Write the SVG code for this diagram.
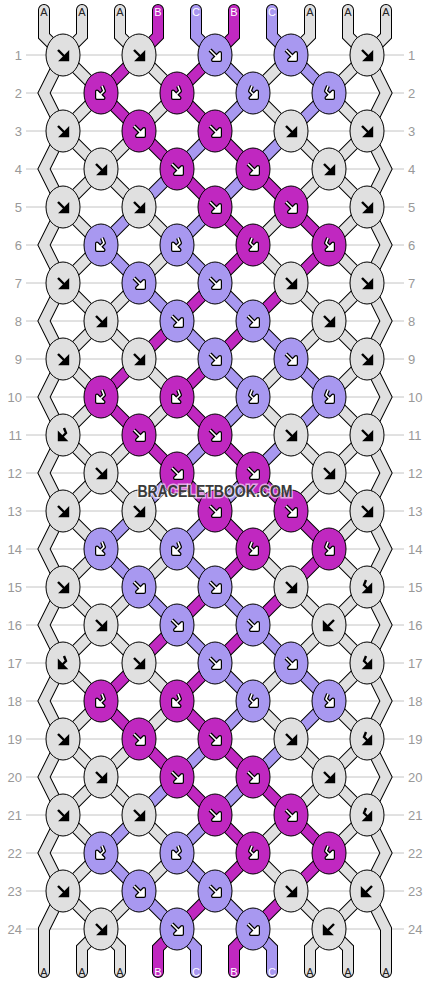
<svg xmlns="http://www.w3.org/2000/svg" width="430" height="984" viewBox="0 0 430 984">
<style>
.g{fill:#e0e0e0}.p{fill:#c028c0}.l{fill:#a898f0}
.num{font-family:"Liberation Sans",Arial,sans-serif;font-size:13px;fill:#999}
.lab{font-family:"Liberation Sans",Arial,sans-serif;font-size:11px;text-anchor:middle}
</style>
<defs>
<ellipse id="e" rx="17" ry="21" stroke="#000" stroke-width="1"/>
<g id="f"><path d="M-5,-5L2,2"/><polygon points="5,5 5,-2 -2,5"/></g>
<g id="b"><path d="M5,-5L-2,2"/><polygon points="-5,5 -5,-2 2,5"/></g>
<g id="rh"><path d="M-1,-7L-3,-2L1,2" fill="none"/><polygon points="4,5 4,-1.5 -2.5,5"/></g>
<g id="lh"><path d="M1,-7L3,-2L-1,2" fill="none"/><polygon points="-4,5 -4,-1.5 2.5,5"/></g>
<g id="fW" stroke-linejoin="round"><use href="#f" stroke="#000" stroke-width="4" fill="#000"/><use href="#f" stroke="#fff" stroke-width="1.6" fill="#fff"/></g>
<g id="rhW" stroke-linejoin="round"><use href="#rh" stroke="#000" stroke-width="4" fill="#000"/><use href="#rh" stroke="#fff" stroke-width="1.6" fill="#fff"/></g>
<g id="lhW" stroke-linejoin="round"><use href="#lh" stroke="#000" stroke-width="4" fill="#000"/><use href="#lh" stroke="#fff" stroke-width="1.6" fill="#fff"/></g>
<g id="fK"><use href="#f" stroke="#000" stroke-width="2.4" fill="#000"/></g>
<g id="bK"><use href="#b" stroke="#000" stroke-width="2.4" fill="#000"/></g>
<g id="rhK"><use href="#rh" stroke="#000" stroke-width="2.4" fill="#000"/></g>
<g id="lhK"><use href="#lh" stroke="#000" stroke-width="2.4" fill="#000"/></g>

<path id="a7" d="M63,55L101,93M367,55L329,93M139,55L177,93M291,55L253,93M101,93L63,131M329,93L367,131M177,93L139,131M253,93L291,131M63,131L101,169M367,131L329,169M139,131L101,169M291,131L329,169M101,169L63,207M329,169L367,207M101,169L139,207M329,169L291,207M63,207L101,245M367,207L329,245M139,207L177,245M291,207L253,245M101,245L63,283M329,245L367,283M177,245L139,283M253,245L291,283M63,283L101,321M367,283L329,321M139,283L101,321M291,283L329,321"/>
<path id="b7" d="M139,55L101,93M215,55L177,93M101,93L139,131M177,93L215,131M139,131L177,169M215,131L253,169M177,169L215,207M253,169L291,207M215,207L253,245M291,207L329,245M253,245L215,283M329,245L291,283M215,283L177,321M291,283L253,321"/>
<path id="c7" d="M215,55L253,93M291,55L329,93M253,93L215,131M329,93L291,131M215,131L177,169M291,131L253,169M177,169L139,207M253,169L215,207M139,207L101,245M215,207L177,245M101,245L139,283M177,245L215,283M139,283L177,321M215,283L253,321"/>
<path id="a8" d="M101,321L63,359M329,321L367,359M101,321L139,359M329,321L291,359"/>
<path id="b8" d="M177,321L139,359M253,321L215,359"/>
<path id="c8" d="M177,321L215,359M253,321L291,359"/>
<path id="aE" d="M44,10L44,36L63,55L44,93L63,131L44,169L63,207L44,245L63,283L44,321L63,359L44,397L63,435L44,473L63,511L44,549L63,587L44,625L63,663L44,701L63,739L44,777L63,815L44,853L63,891L44,929L44,972M386,10L386,36L367,55L386,93L367,131L386,169L367,207L386,245L367,283L386,321L367,359L386,397L367,435L386,473L367,511L386,549L367,587L386,625L367,663L386,701L367,739L386,777L367,815L386,853L367,891L386,929L386,972M82,10L82,36L63,55M120,10L120,36L139,55M310,10L310,36L291,55M348,10L348,36L367,55M101,929L82,948L82,972M101,929L120,948L120,972M329,929L310,948L310,972M329,929L348,948L348,972"/>
<path id="bE" d="M158,10L158,36L139,55M234,10L234,36L215,55M177,929L158,948L158,972M253,929L234,948L234,972"/>
<path id="cE" d="M196,10L196,36L215,55M272,10L272,36L291,55M177,929L196,948L196,972M253,929L272,948L272,972"/>
<g id="SA"><use href="#a7"/><use href="#a7" y="304"/><use href="#a7" y="608"/><use href="#a8"/><use href="#a8" y="304"/><use href="#aE"/></g>
<g id="SB"><use href="#b7"/><use href="#b7" y="304"/><use href="#b7" y="608"/><use href="#b8"/><use href="#b8" y="304"/><use href="#bE"/></g>
<g id="SC"><use href="#c7"/><use href="#c7" y="304"/><use href="#c7" y="608"/><use href="#c8"/><use href="#c8" y="304"/><use href="#cE"/></g>
</defs>
<rect width="430" height="984" fill="#fff"/>
<g id="rowlines" stroke="#c4c4c4" stroke-width="1">
<path d="M26,55H404M26,93H404M26,131H404M26,169H404M26,207H404M26,245H404M26,283H404M26,321H404M26,359H404M26,397H404M26,435H404M26,473H404M26,511H404M26,549H404M26,587H404M26,625H404M26,663H404M26,701H404M26,739H404M26,777H404M26,815H404M26,853H404M26,891H404M26,929H404"/>
</g>
<g id="rownumbers" class="num">
<g text-anchor="end">
<text x="22" y="59.5">1</text><text x="22" y="97.5">2</text><text x="22" y="135.5">3</text><text x="22" y="173.5">4</text><text x="22" y="211.5">5</text><text x="22" y="249.5">6</text><text x="22" y="287.5">7</text><text x="22" y="325.5">8</text><text x="22" y="363.5">9</text><text x="22" y="401.5">10</text><text x="22" y="439.5">11</text><text x="22" y="477.5">12</text><text x="22" y="515.5">13</text><text x="22" y="553.5">14</text><text x="22" y="591.5">15</text><text x="22" y="629.5">16</text><text x="22" y="667.5">17</text><text x="22" y="705.5">18</text><text x="22" y="743.5">19</text><text x="22" y="781.5">20</text><text x="22" y="819.5">21</text><text x="22" y="857.5">22</text><text x="22" y="895.5">23</text><text x="22" y="933.5">24</text>
</g>
<g text-anchor="start">
<text x="408" y="59.5">1</text><text x="408" y="97.5">2</text><text x="408" y="135.5">3</text><text x="408" y="173.5">4</text><text x="408" y="211.5">5</text><text x="408" y="249.5">6</text><text x="408" y="287.5">7</text><text x="408" y="325.5">8</text><text x="408" y="363.5">9</text><text x="408" y="401.5">10</text><text x="408" y="439.5">11</text><text x="408" y="477.5">12</text><text x="408" y="515.5">13</text><text x="408" y="553.5">14</text><text x="408" y="591.5">15</text><text x="408" y="629.5">16</text><text x="408" y="667.5">17</text><text x="408" y="705.5">18</text><text x="408" y="743.5">19</text><text x="408" y="781.5">20</text><text x="408" y="819.5">21</text><text x="408" y="857.5">22</text><text x="408" y="895.5">23</text><text x="408" y="933.5">24</text>
</g>
</g>
<g id="connectors" fill="none" stroke-linejoin="miter" stroke-linecap="round">
<g stroke="#000" stroke-width="12"><use href="#SA"/><use href="#SB"/><use href="#SC"/></g>
<use href="#SA" stroke="#e0e0e0" stroke-width="10"/>
<use href="#SB" stroke="#c028c0" stroke-width="10"/>
<use href="#SC" stroke="#a898f0" stroke-width="10"/>
</g>
<g id="strand-labels" class="lab">
<text x="44" y="16" fill="#222">A</text><text x="82" y="16" fill="#222">A</text><text x="120" y="16" fill="#222">A</text><text x="158" y="16" fill="#fff">B</text><text x="196" y="16" fill="#fff">C</text><text x="234" y="16" fill="#fff">B</text><text x="272" y="16" fill="#fff">C</text><text x="310" y="16" fill="#222">A</text><text x="348" y="16" fill="#222">A</text><text x="386" y="16" fill="#222">A</text>
<text x="44" y="976" fill="#222">A</text><text x="82" y="976" fill="#222">A</text><text x="120" y="976" fill="#222">A</text><text x="158" y="976" fill="#fff">B</text><text x="196" y="976" fill="#fff">C</text><text x="234" y="976" fill="#fff">B</text><text x="272" y="976" fill="#fff">C</text><text x="310" y="976" fill="#222">A</text><text x="348" y="976" fill="#222">A</text><text x="386" y="976" fill="#222">A</text>
</g>
<g id="knots">
<g id="k1-1"><use href="#e" class="g" x="63" y="55"/><use href="#fK" x="63" y="55"/></g>
<g id="k1-2"><use href="#e" class="g" x="139" y="55"/><use href="#fK" x="139" y="55"/></g>
<g id="k1-3"><use href="#e" class="l" x="215" y="55"/><use href="#fW" x="215" y="55"/></g>
<g id="k1-4"><use href="#e" class="l" x="291" y="55"/><use href="#fW" x="291" y="55"/></g>
<g id="k1-5"><use href="#e" class="g" x="367" y="55"/><use href="#fK" x="367" y="55"/></g>
<g id="k2-1"><use href="#e" class="p" x="101" y="93"/><use href="#lhW" x="101" y="93"/></g>
<g id="k2-2"><use href="#e" class="p" x="177" y="93"/><use href="#lhW" x="177" y="93"/></g>
<g id="k2-3"><use href="#e" class="l" x="253" y="93"/><use href="#rhW" x="253" y="93"/></g>
<g id="k2-4"><use href="#e" class="l" x="329" y="93"/><use href="#rhW" x="329" y="93"/></g>
<g id="k3-1"><use href="#e" class="g" x="63" y="131"/><use href="#fK" x="63" y="131"/></g>
<g id="k3-2"><use href="#e" class="p" x="139" y="131"/><use href="#fW" x="139" y="131"/></g>
<g id="k3-3"><use href="#e" class="p" x="215" y="131"/><use href="#fW" x="215" y="131"/></g>
<g id="k3-4"><use href="#e" class="g" x="291" y="131"/><use href="#fK" x="291" y="131"/></g>
<g id="k3-5"><use href="#e" class="g" x="367" y="131"/><use href="#fK" x="367" y="131"/></g>
<g id="k4-1"><use href="#e" class="g" x="101" y="169"/><use href="#fK" x="101" y="169"/></g>
<g id="k4-2"><use href="#e" class="p" x="177" y="169"/><use href="#fW" x="177" y="169"/></g>
<g id="k4-3"><use href="#e" class="p" x="253" y="169"/><use href="#fW" x="253" y="169"/></g>
<g id="k4-4"><use href="#e" class="g" x="329" y="169"/><use href="#fK" x="329" y="169"/></g>
<g id="k5-1"><use href="#e" class="g" x="63" y="207"/><use href="#fK" x="63" y="207"/></g>
<g id="k5-2"><use href="#e" class="g" x="139" y="207"/><use href="#fK" x="139" y="207"/></g>
<g id="k5-3"><use href="#e" class="p" x="215" y="207"/><use href="#fW" x="215" y="207"/></g>
<g id="k5-4"><use href="#e" class="p" x="291" y="207"/><use href="#fW" x="291" y="207"/></g>
<g id="k5-5"><use href="#e" class="g" x="367" y="207"/><use href="#fK" x="367" y="207"/></g>
<g id="k6-1"><use href="#e" class="l" x="101" y="245"/><use href="#lhW" x="101" y="245"/></g>
<g id="k6-2"><use href="#e" class="l" x="177" y="245"/><use href="#lhW" x="177" y="245"/></g>
<g id="k6-3"><use href="#e" class="p" x="253" y="245"/><use href="#rhW" x="253" y="245"/></g>
<g id="k6-4"><use href="#e" class="p" x="329" y="245"/><use href="#rhW" x="329" y="245"/></g>
<g id="k7-1"><use href="#e" class="g" x="63" y="283"/><use href="#fK" x="63" y="283"/></g>
<g id="k7-2"><use href="#e" class="l" x="139" y="283"/><use href="#fW" x="139" y="283"/></g>
<g id="k7-3"><use href="#e" class="l" x="215" y="283"/><use href="#fW" x="215" y="283"/></g>
<g id="k7-4"><use href="#e" class="g" x="291" y="283"/><use href="#fK" x="291" y="283"/></g>
<g id="k7-5"><use href="#e" class="g" x="367" y="283"/><use href="#fK" x="367" y="283"/></g>
<g id="k8-1"><use href="#e" class="g" x="101" y="321"/><use href="#fK" x="101" y="321"/></g>
<g id="k8-2"><use href="#e" class="l" x="177" y="321"/><use href="#fW" x="177" y="321"/></g>
<g id="k8-3"><use href="#e" class="l" x="253" y="321"/><use href="#fW" x="253" y="321"/></g>
<g id="k8-4"><use href="#e" class="g" x="329" y="321"/><use href="#fK" x="329" y="321"/></g>
<g id="k9-1"><use href="#e" class="g" x="63" y="359"/><use href="#fK" x="63" y="359"/></g>
<g id="k9-2"><use href="#e" class="g" x="139" y="359"/><use href="#fK" x="139" y="359"/></g>
<g id="k9-3"><use href="#e" class="l" x="215" y="359"/><use href="#fW" x="215" y="359"/></g>
<g id="k9-4"><use href="#e" class="l" x="291" y="359"/><use href="#fW" x="291" y="359"/></g>
<g id="k9-5"><use href="#e" class="g" x="367" y="359"/><use href="#fK" x="367" y="359"/></g>
<g id="k10-1"><use href="#e" class="p" x="101" y="397"/><use href="#lhW" x="101" y="397"/></g>
<g id="k10-2"><use href="#e" class="p" x="177" y="397"/><use href="#lhW" x="177" y="397"/></g>
<g id="k10-3"><use href="#e" class="l" x="253" y="397"/><use href="#rhW" x="253" y="397"/></g>
<g id="k10-4"><use href="#e" class="l" x="329" y="397"/><use href="#rhW" x="329" y="397"/></g>
<g id="k11-1"><use href="#e" class="g" x="63" y="435"/><use href="#lhK" x="63" y="435"/></g>
<g id="k11-2"><use href="#e" class="p" x="139" y="435"/><use href="#fW" x="139" y="435"/></g>
<g id="k11-3"><use href="#e" class="p" x="215" y="435"/><use href="#fW" x="215" y="435"/></g>
<g id="k11-4"><use href="#e" class="g" x="291" y="435"/><use href="#fK" x="291" y="435"/></g>
<g id="k11-5"><use href="#e" class="g" x="367" y="435"/><use href="#fK" x="367" y="435"/></g>
<g id="k12-1"><use href="#e" class="g" x="101" y="473"/><use href="#fK" x="101" y="473"/></g>
<g id="k12-2"><use href="#e" class="p" x="177" y="473"/><use href="#fW" x="177" y="473"/></g>
<g id="k12-3"><use href="#e" class="p" x="253" y="473"/><use href="#fW" x="253" y="473"/></g>
<g id="k12-4"><use href="#e" class="g" x="329" y="473"/><use href="#fK" x="329" y="473"/></g>
<g id="k13-1"><use href="#e" class="g" x="63" y="511"/><use href="#fK" x="63" y="511"/></g>
<g id="k13-2"><use href="#e" class="g" x="139" y="511"/><use href="#fK" x="139" y="511"/></g>
<g id="k13-3"><use href="#e" class="p" x="215" y="511"/><use href="#fW" x="215" y="511"/></g>
<g id="k13-4"><use href="#e" class="p" x="291" y="511"/><use href="#fW" x="291" y="511"/></g>
<g id="k13-5"><use href="#e" class="g" x="367" y="511"/><use href="#fK" x="367" y="511"/></g>
<g id="k14-1"><use href="#e" class="l" x="101" y="549"/><use href="#lhW" x="101" y="549"/></g>
<g id="k14-2"><use href="#e" class="l" x="177" y="549"/><use href="#lhW" x="177" y="549"/></g>
<g id="k14-3"><use href="#e" class="p" x="253" y="549"/><use href="#rhW" x="253" y="549"/></g>
<g id="k14-4"><use href="#e" class="p" x="329" y="549"/><use href="#rhW" x="329" y="549"/></g>
<g id="k15-1"><use href="#e" class="g" x="63" y="587"/><use href="#fK" x="63" y="587"/></g>
<g id="k15-2"><use href="#e" class="l" x="139" y="587"/><use href="#fW" x="139" y="587"/></g>
<g id="k15-3"><use href="#e" class="l" x="215" y="587"/><use href="#fW" x="215" y="587"/></g>
<g id="k15-4"><use href="#e" class="g" x="291" y="587"/><use href="#fK" x="291" y="587"/></g>
<g id="k15-5"><use href="#e" class="g" x="367" y="587"/><use href="#rhK" x="367" y="587"/></g>
<g id="k16-1"><use href="#e" class="g" x="101" y="625"/><use href="#fK" x="101" y="625"/></g>
<g id="k16-2"><use href="#e" class="l" x="177" y="625"/><use href="#fW" x="177" y="625"/></g>
<g id="k16-3"><use href="#e" class="l" x="253" y="625"/><use href="#fW" x="253" y="625"/></g>
<g id="k16-4"><use href="#e" class="g" x="329" y="625"/><use href="#bK" x="329" y="625"/></g>
<g id="k17-1"><use href="#e" class="g" x="63" y="663"/><use href="#lhK" x="63" y="663"/></g>
<g id="k17-2"><use href="#e" class="g" x="139" y="663"/><use href="#fK" x="139" y="663"/></g>
<g id="k17-3"><use href="#e" class="l" x="215" y="663"/><use href="#fW" x="215" y="663"/></g>
<g id="k17-4"><use href="#e" class="l" x="291" y="663"/><use href="#fW" x="291" y="663"/></g>
<g id="k17-5"><use href="#e" class="g" x="367" y="663"/><use href="#rhK" x="367" y="663"/></g>
<g id="k18-1"><use href="#e" class="p" x="101" y="701"/><use href="#lhW" x="101" y="701"/></g>
<g id="k18-2"><use href="#e" class="p" x="177" y="701"/><use href="#lhW" x="177" y="701"/></g>
<g id="k18-3"><use href="#e" class="l" x="253" y="701"/><use href="#rhW" x="253" y="701"/></g>
<g id="k18-4"><use href="#e" class="l" x="329" y="701"/><use href="#rhW" x="329" y="701"/></g>
<g id="k19-1"><use href="#e" class="g" x="63" y="739"/><use href="#fK" x="63" y="739"/></g>
<g id="k19-2"><use href="#e" class="p" x="139" y="739"/><use href="#fW" x="139" y="739"/></g>
<g id="k19-3"><use href="#e" class="p" x="215" y="739"/><use href="#fW" x="215" y="739"/></g>
<g id="k19-4"><use href="#e" class="g" x="291" y="739"/><use href="#fK" x="291" y="739"/></g>
<g id="k19-5"><use href="#e" class="g" x="367" y="739"/><use href="#rhK" x="367" y="739"/></g>
<g id="k20-1"><use href="#e" class="g" x="101" y="777"/><use href="#fK" x="101" y="777"/></g>
<g id="k20-2"><use href="#e" class="p" x="177" y="777"/><use href="#fW" x="177" y="777"/></g>
<g id="k20-3"><use href="#e" class="p" x="253" y="777"/><use href="#fW" x="253" y="777"/></g>
<g id="k20-4"><use href="#e" class="g" x="329" y="777"/><use href="#fK" x="329" y="777"/></g>
<g id="k21-1"><use href="#e" class="g" x="63" y="815"/><use href="#fK" x="63" y="815"/></g>
<g id="k21-2"><use href="#e" class="g" x="139" y="815"/><use href="#fK" x="139" y="815"/></g>
<g id="k21-3"><use href="#e" class="p" x="215" y="815"/><use href="#fW" x="215" y="815"/></g>
<g id="k21-4"><use href="#e" class="p" x="291" y="815"/><use href="#fW" x="291" y="815"/></g>
<g id="k21-5"><use href="#e" class="g" x="367" y="815"/><use href="#rhK" x="367" y="815"/></g>
<g id="k22-1"><use href="#e" class="l" x="101" y="853"/><use href="#lhW" x="101" y="853"/></g>
<g id="k22-2"><use href="#e" class="l" x="177" y="853"/><use href="#lhW" x="177" y="853"/></g>
<g id="k22-3"><use href="#e" class="p" x="253" y="853"/><use href="#rhW" x="253" y="853"/></g>
<g id="k22-4"><use href="#e" class="p" x="329" y="853"/><use href="#rhW" x="329" y="853"/></g>
<g id="k23-1"><use href="#e" class="g" x="63" y="891"/><use href="#fK" x="63" y="891"/></g>
<g id="k23-2"><use href="#e" class="l" x="139" y="891"/><use href="#fW" x="139" y="891"/></g>
<g id="k23-3"><use href="#e" class="l" x="215" y="891"/><use href="#fW" x="215" y="891"/></g>
<g id="k23-4"><use href="#e" class="g" x="291" y="891"/><use href="#fK" x="291" y="891"/></g>
<g id="k23-5"><use href="#e" class="g" x="367" y="891"/><use href="#bK" x="367" y="891"/></g>
<g id="k24-1"><use href="#e" class="g" x="101" y="929"/><use href="#fK" x="101" y="929"/></g>
<g id="k24-2"><use href="#e" class="l" x="177" y="929"/><use href="#fW" x="177" y="929"/></g>
<g id="k24-3"><use href="#e" class="l" x="253" y="929"/><use href="#fW" x="253" y="929"/></g>
<g id="k24-4"><use href="#e" class="g" x="329" y="929"/><use href="#bK" x="329" y="929"/></g>
</g>
<text id="watermark" x="215" y="497" font-family="'Liberation Sans',Arial,sans-serif" font-weight="bold" font-size="16" text-anchor="middle" textLength="155" lengthAdjust="spacingAndGlyphs" fill="#3a3a3a" stroke="#fff" stroke-opacity="0.6" stroke-width="3" paint-order="stroke">BRACELETBOOK.COM</text>
</svg>
